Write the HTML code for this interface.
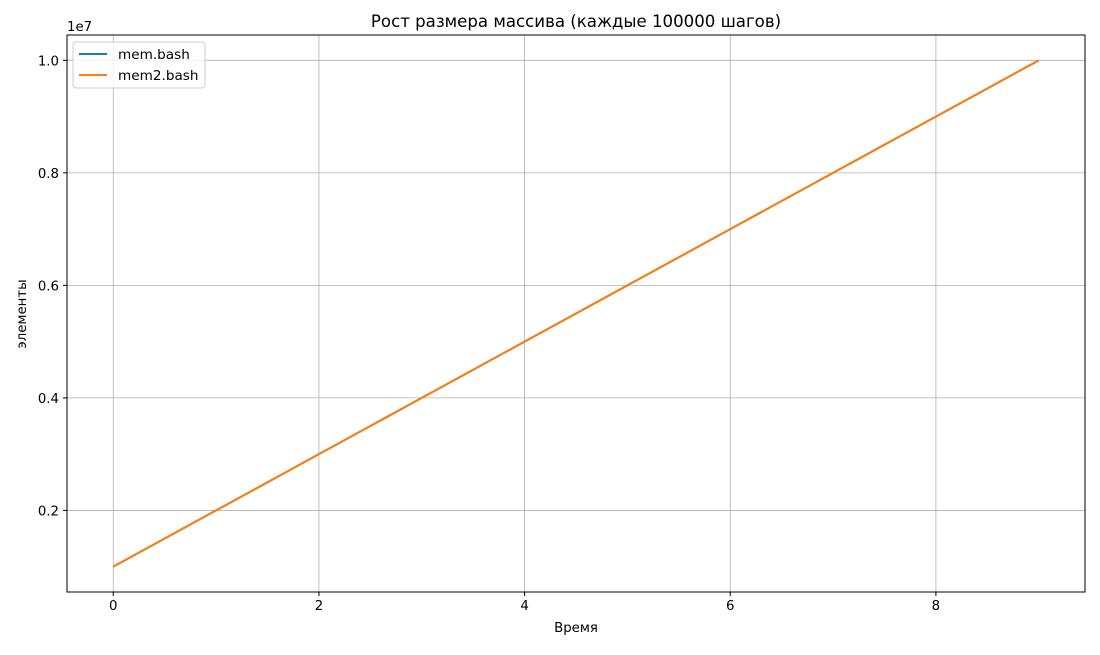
<!DOCTYPE html>
<html><head><meta charset="utf-8"><style>
body{margin:0;background:#fff;}
svg text{font-family:"DejaVu Sans","Liberation Sans",sans-serif;fill:#000;}
</style></head><body>
<svg id="chart" width="1100" height="650" xmlns="http://www.w3.org/2000/svg">
<rect width="1100" height="650" fill="#fff"/>
<g id="grid"></g>
<g id="series"></g>
<rect x="67" y="35" width="1018" height="557" fill="none" stroke="#000" stroke-width="1"/>
<g id="ticks"></g>
<text x="576" y="27" font-size="16.6" text-anchor="middle">Рост размера массива (каждые 100000 шагов)</text>
<text x="576" y="632" font-size="13.3" text-anchor="middle">Время</text>
<text transform="translate(26,314) rotate(-90)" font-size="13.3" text-anchor="middle">элементы</text>
<text x="67" y="31" font-size="13.3">1e7</text>
<g>
<rect x="73" y="42" width="132" height="46" rx="3" fill="#fff" fill-opacity="0.8" stroke="#ccc"/>
<line x1="79" y1="54" x2="107" y2="54" stroke="#1f77b4" stroke-width="2"/>
<text x="118" y="59" font-size="13.6">mem.bash</text>
<line x1="79" y1="75" x2="107" y2="75" stroke="#ff7f0e" stroke-width="2"/>
<text x="118" y="80" font-size="13.6">mem2.bash</text>
</g>
</svg>
<script>
const xValues=[0,1,2,3,4,5,6,7,8,9];
const memValues=[1e6,2e6,3e6,4e6,5e6,6e6,7e6,8e6,9e6,10e6];
const mem2Values=[1e6,2e6,3e6,4e6,5e6,6e6,7e6,8e6,9e6,10e6];
const xTicks=[0,2,4,6,8];
const yTicks=[2e6,4e6,6e6,8e6,10e6];
const yTickLabels=["0.2","0.4","0.6","0.8","1.0"];
const NS="http://www.w3.org/2000/svg";
const L=67,R=1085,T=35,B=592;
const xmin=-0.45,xmax=9.45,ymin=0.55e6,ymax=10.45e6;
function sx(v){return L+(v-xmin)/(xmax-xmin)*(R-L);}
function sy(v){return B-(v-ymin)/(ymax-ymin)*(B-T);}
function mk(tag,attrs,parent){const e=document.createElementNS(NS,tag);for(const k in attrs)e.setAttribute(k,attrs[k]);parent.appendChild(e);return e;}
const grid=document.getElementById('grid'),ticks=document.getElementById('ticks'),series=document.getElementById('series');
xTicks.forEach(v=>{
 const x=sx(v);
 const g=mk('line',{x1:x,x2:x,y1:T,y2:B,stroke:'#b0b0b0','stroke-width':0.8},grid);
 
 
 mk('line',{x1:x,x2:x,y1:B,y2:B+4,stroke:'#000'},ticks);
 const t=mk('text',{x:x,y:B+18,'font-size':13.3,'text-anchor':'middle'},ticks);
 t.textContent=String(v);
 
 
});
yTicks.forEach((v,i)=>{
 const y=sy(v);
 const g=mk('line',{x1:L,x2:R,y1:y,y2:y,stroke:'#b0b0b0','stroke-width':0.8},grid);
 
 
 mk('line',{x1:L-4,x2:L,y1:y,y2:y,stroke:'#000'},ticks);
 const t=mk('text',{x:L-8,y:y+5,'font-size':13.3,'text-anchor':'end'},ticks);
 t.textContent=yTickLabels[i];
 
 
});
function line(vals,color,name){
 const p=mk('polyline',{points:xValues.map((x,i)=>sx(x)+','+sy(vals[i])).join(' '),fill:'none',stroke:color,'stroke-width':2},series);
 
 
}
line(memValues,'#1f77b4','mem-bash-line');
line(mem2Values,'#ff7f0e','mem2-bash-line');
</script>
</body></html>
